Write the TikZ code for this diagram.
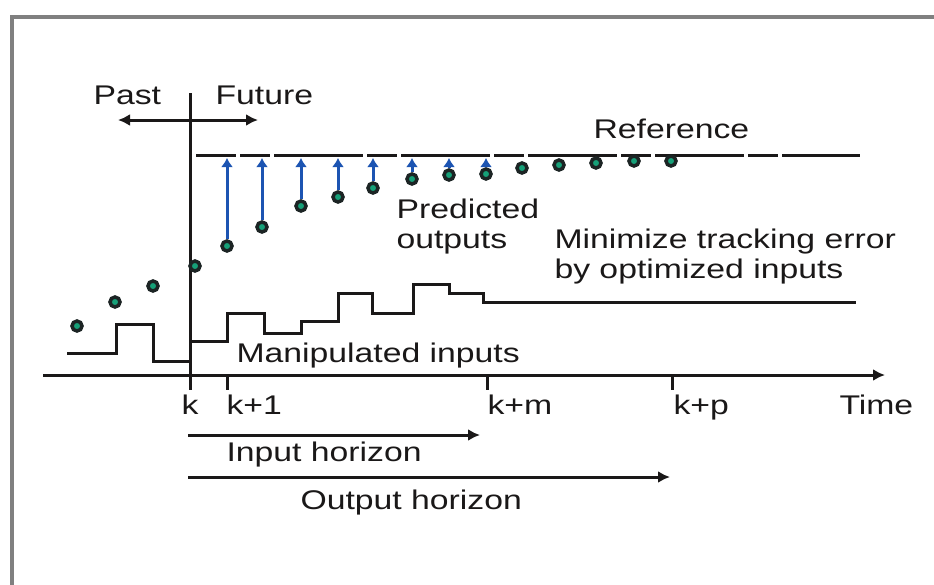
\documentclass[tikz,border=0pt]{standalone}
\usepackage{fontspec}
\setmainfont{Liberation Sans}[FakeStretch=1.25]
\usetikzlibrary{arrows.meta}
\definecolor{framegray}{RGB}{128,128,128}
\definecolor{lineblack}{RGB}{26,24,24}
\definecolor{dotring}{RGB}{28,36,36}
\definecolor{dotgreen}{RGB}{22,160,120}
\definecolor{errblue}{RGB}{28,84,178}
\tikzset{
  dot/.style={circle,draw=dotring,fill=dotgreen,line width=3.5pt,minimum size=10pt,inner sep=0pt},
  lbl/.style={anchor=base west,inner sep=0pt},
  tip/.style={-{Latex[length=12pt,width=12pt]}},
}
\begin{document}
\begin{tikzpicture}[x=1pt,y=-1pt,line width=3pt,color=lineblack,font=\fontsize{27}{33}\selectfont]
\useasboundingbox (0,0) rectangle (934,584);
\draw[framegray,line width=4pt] (12,600) -- (12,17) -- (950,17); % frame
% time axis and the line at k
\coordinate (o) at (43,375);
\coordinate (tmax) at (885,375);
\draw[tip] (o) -- (tmax);
\coordinate (ktop) at (190,93);
\coordinate (kbot) at (190,390);
\draw (ktop) -- (kbot);
\foreach \x/\n in {227/t1, 487/tm, 672/tp} % edit here for the ticks
\draw (\x,375) coordinate (\n) -- ++(0,15);
\node[anchor=base,inner sep=0pt] (lk) at (190,414) {k};
\node[lbl] (lk1) at (225,414) {k+1};
\node[lbl] (lkm) at (486,414) {k+m};
\node[lbl] (lkp) at (672,414) {k+p};
\node[lbl] (time) at (838,414) {Time};
% past / future
\coordinate (pastend) at (118,120);
\coordinate (futend) at (258,120);
\draw[{Latex[length=12pt,width=12pt]}-{Latex[length=12pt,width=12pt]}] (pastend) -- (futend);
\node[lbl] (past) at (92,104) {Past};
\node[lbl] (future) at (214,104) {Future};
% reference
\coordinate (r0) at (196,155);
\coordinate (r1) at (860,155);
\coordinate (rtip) at (0,158);
\draw[dash pattern=on 89pt off 4pt on 30pt off 4pt,dash phase=49pt] (r0) -- (r1);
\node[lbl] (ref) at (592,138) {Reference};
% manipulated inputs
\draw (67,353) -| (116,324) -| (153,361) -- (190,361);
\draw (190,341) -| (227,313) -| (264,333) -| (301,321) -| (338,293) -| (372,313)
  -| (413,284) -| (449,293) -| (483,302) -- (856,302);
\node[lbl] (manip) at (235,362) {Manipulated inputs};
% outputs
\foreach \x/\y [count=\i] in {77/326,115/302,153/286,195/266} % edit here for past outputs
\node[dot] (q\i) at (\x,\y) {};
\foreach \x/\y [count=\i] in {227/246,262/227,301/206,338/197,373/188,412/179,449/175,
  486/174,522/168,559/165,596/163,634/161,671/161} % edit here for predicted outputs
\node[dot] (p\i) at (\x,\y) {};
\foreach \i in {1,...,8} % edit here for the error arrows
\draw[errblue,-{Latex[length=9pt,width=12pt]}] (p\i.north) -- (p\i.north |- rtip);
\node[lbl,align=left,font=\fontsize{27}{30}\selectfont] (pred) at (395,248) {Predicted\\outputs};
\node[lbl,align=left,font=\fontsize{27}{30}\selectfont] (mini) at (553,278) {Minimize tracking error\\by optimized inputs};
% horizons
\coordinate (h0) at (188,435);
\coordinate (h1) at (480,435);
\draw[tip] (h0) -- (h1);
\node[lbl] (inh) at (225,461) {Input horizon};
\coordinate (g0) at (188,477);
\coordinate (g1) at (670,477);
\draw[tip] (g0) -- (g1);
\node[lbl] (outh) at (299,509) {Output horizon};
\end{tikzpicture}
\end{document}
